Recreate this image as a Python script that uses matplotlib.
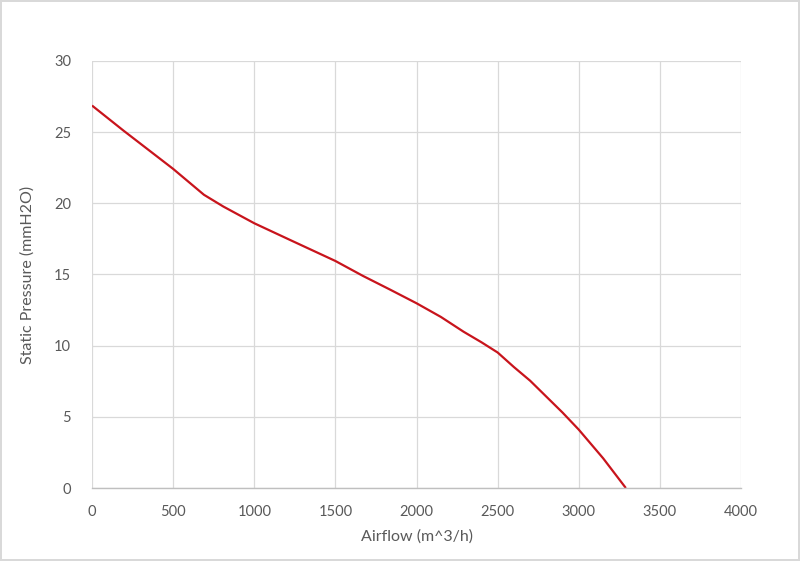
import matplotlib.pyplot as plt

airflow = [0, 195, 500, 690, 810, 1000, 1220, 1500, 1670, 1835, 2000, 2150, 2290, 2400, 2500, 2600, 2700, 2800, 2900, 3000, 3150, 3290]
pressure = [26.87, 25.1, 22.42, 20.6, 19.77, 18.6, 17.43, 15.95, 14.9, 13.95, 12.98, 12.02, 10.98, 10.24, 9.52, 8.5, 7.54, 6.42, 5.3, 4.1, 2.09, 0.0]

x_ticks = [0, 500, 1000, 1500, 2000, 2500, 3000, 3500, 4000]
y_ticks = [0, 5, 10, 15, 20, 25, 30]

plt.rcParams['font.family'] = ['Lato', 'DejaVu Sans']
text_col = '#595959'
grid_col = '#d9d9d9'

fig = plt.figure(figsize=(8, 5.61), dpi=100)
fig.patch.set_edgecolor(grid_col)
fig.patch.set_linewidth(1.5)
ax = fig.add_axes([0.115, 0.1301, 0.8113, 0.7612])

ax.plot(airflow, pressure, color='#c8141c', linewidth=1.6,
        solid_joinstyle='round', solid_capstyle='butt')

ax.set_xlim(0, 4000)
ax.set_ylim(0, 30)
ax.set_xticks(x_ticks)
ax.set_yticks(y_ticks)
ax.grid(True, color=grid_col, linewidth=0.9)
ax.set_axisbelow(True)
for s in ['top', 'right', 'left']:
    ax.spines[s].set_visible(False)
ax.spines['bottom'].set_color('#bfbfbf')
ax.spines['bottom'].set_linewidth(1.0)
ax.tick_params(length=0, labelsize=10.5, colors=text_col)
ax.tick_params(axis='y', pad=15)
ax.tick_params(axis='x', pad=12)

ax.set_xlabel('Airflow (m^3/h)', fontsize=11.5, color=text_col, labelpad=8)
ax.set_ylabel('Static Pressure (mmH2O)', fontsize=11.5, color=text_col, labelpad=14)

fig.savefig('out.png', dpi=100, edgecolor=fig.get_edgecolor())
